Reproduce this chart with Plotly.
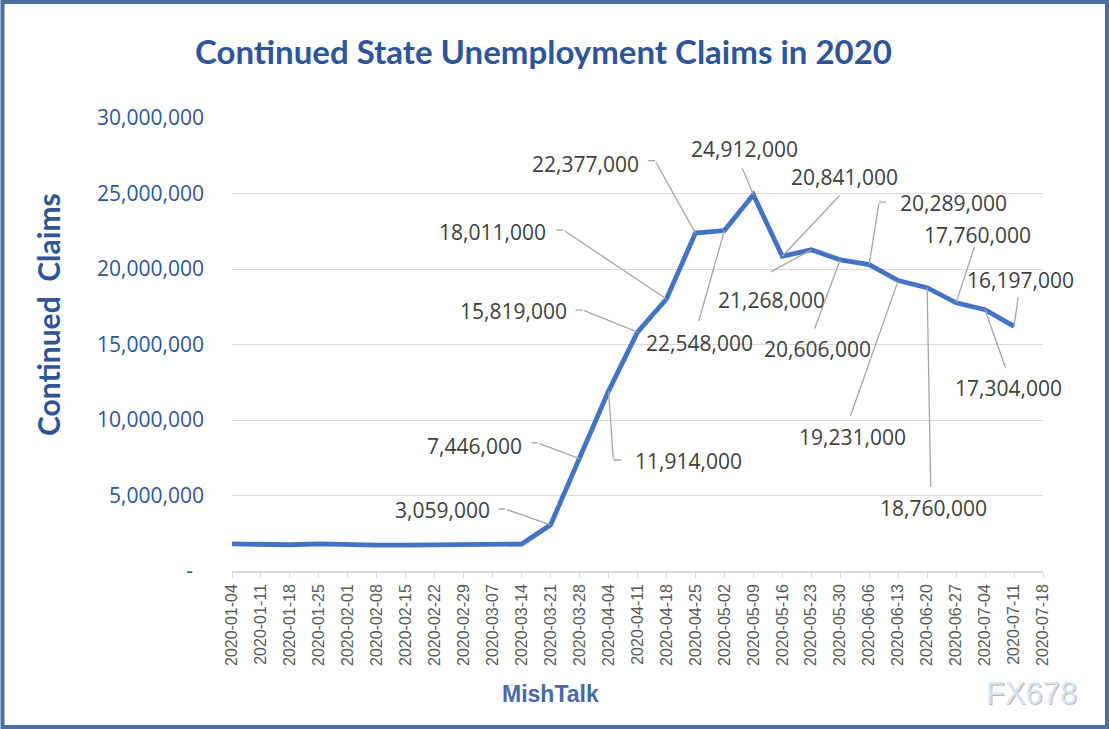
import plotly.graph_objects as go

# ---- data ----
dates = ["2020-01-04", "2020-01-11", "2020-01-18", "2020-01-25", "2020-02-01", "2020-02-08",
         "2020-02-15", "2020-02-22", "2020-02-29", "2020-03-07", "2020-03-14", "2020-03-21",
         "2020-03-28", "2020-04-04", "2020-04-11", "2020-04-18", "2020-04-25", "2020-05-02",
         "2020-05-09", "2020-05-16", "2020-05-23", "2020-05-30", "2020-06-06", "2020-06-13",
         "2020-06-20", "2020-06-27", "2020-07-04", "2020-07-11"]
claims = [1790000, 1730000, 1740000, 1800000, 1730000, 1720000,
          1720000, 1720000, 1720000, 1720000, 1780000, 3059000,
          7446000, 11914000, 15819000, 18011000, 22377000, 22548000,
          24912000, 20841000, 21268000, 20606000, 20289000, 19231000,
          18760000, 17760000, 17304000, 16197000]
tick_dates = dates + ["2020-07-18"]
y_tickvals = [0, 5000000, 10000000, 15000000, 20000000, 25000000, 30000000]
y_ticktext = ["-\u00a0\u00a0", "5,000,000", "10,000,000", "15,000,000", "20,000,000", "25,000,000", "30,000,000"]
labeled_dates = dates[11:]

# ---- label placement (pixel offsets from the data point: text centre, elbow, stub end) ----
label_pos = {
    "2020-03-21": ((-108.6, -14.8), (-45.6, -15.8), (-53.6, -15.8)),
    "2020-03-28": ((-104.6, -12.6), (-41.6, -15.6), (-49.6, -15.6)),
    "2020-04-04": ((79.5, 69.9), (4.8, 68.9), (14.2, 68.9)),
    "2020-04-11": ((-124.5, -21.1), (-54.8, -22.1), (-63.5, -22.1)),
    "2020-04-18": ((-173.5, -67.0), (-103.2, -69.0), (-111.5, -69.0)),
    "2020-04-25": ((-109.9, -69.1), (-40.4, -72.4), (-48.7, -72.4)),
    "2020-05-02": ((-24.4, 112.2), (-26.1, 92.2), None),
    "2020-05-09": ((-8.4, -45.8), (-11.7, -28.1), None),
    "2020-05-16": ((62.2, -79.0), (58.7, -62.3), None),
    "2020-05-23": ((-39.6, 50.1), (-42.0, 22.8), None),
    "2020-05-30": ((-23.2, 89.5), (-26.2, 70.2), None),
    "2020-06-06": ((83.8, -61.3), (9.8, -62.6), (18.5, -62.6)),
    "2020-06-13": ((-45.2, 156.1), (-48.2, 136.7), None),
    "2020-06-20": ((6.2, 220.6), (3.6, 200.6), None),
    "2020-06-27": ((20.9, -67.8), (18.9, -57.8), None),
    "2020-07-04": ((23.7, 78.6), (20.9, 59.3), None),
    "2020-07-11": ((6.8, -46.4), (4.3, -30.4), None),
}

BLUE_TXT = "#2F5597"
LEADER = "#a6a6a6"

fig = go.Figure()
fig.add_trace(go.Scatter(
    x=dates, y=claims, mode="lines",
    line=dict(color="#4472C4", width=4.8),
    hoverinfo="x+y", showlegend=False,
))

annotations = []
for d in labeled_dates:
    v = claims[dates.index(d)]
    (tx, ty), (ex, ey), stub = label_pos[d]
    annotations.append(dict(x=d, y=v, xref="x", yref="y", text="", showarrow=True,
                            arrowhead=0, arrowwidth=1.3, arrowcolor=LEADER, standoff=0,
                            ax=ex, ay=ey))
    if stub is not None:
        sx, sy = stub
        annotations.append(dict(x=d, y=v, xref="x", yref="y", text="", showarrow=True,
                                arrowhead=0, arrowwidth=1.3, arrowcolor=LEADER, standoff=0,
                                xshift=ex, yshift=-ey, ax=sx - ex, ay=sy - ey))
    annotations.append(dict(x=d, y=v, xref="x", yref="y", text=f"{v:,}", showarrow=False,
                            xshift=tx, yshift=-ty, xanchor="center", yanchor="middle",
                            font=dict(family="Open Sans", size=21, color="#404040")))

def paper_x(px):
    return (px - 232) / 811

def paper_y(py):
    return (571 - py) / 453

annotations.append(dict(x=paper_x(543), y=paper_y(51), xref="paper", yref="paper",
                        xanchor="center", yanchor="middle",
                        text="<b>Continued State Unemployment Claims in 2020</b>",
                        showarrow=False, font=dict(family="Lato", size=33, color=BLUE_TXT)))
annotations.append(dict(x=paper_x(48), y=paper_y(315), xref="paper", yref="paper",
                        xanchor="center", yanchor="middle",
                        text="<b>Continued  Claims</b>", textangle=-90,
                        showarrow=False, font=dict(family="Lato", size=30, color=BLUE_TXT)))
annotations.append(dict(x=paper_x(550), y=paper_y(694), xref="paper", yref="paper",
                        xanchor="center", yanchor="middle",
                        text="<b>MishTalk</b>", showarrow=False,
                        font=dict(family="Liberation Sans", size=23, color="#4a69a8")))
annotations.append(dict(x=paper_x(1031), y=paper_y(693), xref="paper", yref="paper",
                        xanchor="center", yanchor="middle",
                        text="FX678", showarrow=False, xshift=1, yshift=-1,
                        font=dict(family="Liberation Sans", size=31, color="#c9b7a3")))
annotations.append(dict(x=paper_x(1031), y=paper_y(693), xref="paper", yref="paper",
                        xanchor="center", yanchor="middle",
                        text="FX678", showarrow=False,
                        font=dict(family="Liberation Sans", size=31, color="#d8e5f4")))

fig.update_layout(
    width=1109, height=729,
    margin=dict(l=232, r=66, t=118, b=158),
    paper_bgcolor="white", plot_bgcolor="white",
    annotations=annotations,
    shapes=[dict(type="rect", xref="paper", yref="paper",
                 x0=paper_x(2.5), x1=paper_x(1107),
                 y0=paper_y(727), y1=paper_y(2),
                 line=dict(color="#4c6ea3", width=4), fillcolor="rgba(0,0,0,0)", layer="below")],
    xaxis=dict(
        type="date", range=["2020-01-04", "2020-07-18"],
        tickmode="array", tickvals=tick_dates, ticktext=tick_dates, tickangle=-90,
        tickfont=dict(family="Liberation Sans", size=16, color="#595959"),
        showgrid=False, showline=True, linecolor="#d9d9d9", linewidth=1.5,
        ticks="outside", ticklen=5, tickcolor="#d9d9d9", tickwidth=1.3,
        ticklabelstandoff=0, zeroline=False,
    ),
    yaxis=dict(
        range=[0, 30000000], tickmode="array", tickvals=y_tickvals, ticktext=y_ticktext,
        tickfont=dict(family="Open Sans", size=21, color=BLUE_TXT),
        showgrid=True, gridcolor="#d9d9d9", gridwidth=1.3,
        zeroline=False, showline=False, ticks="", ticklabelstandoff=27,
    ),
)

fig.write_html("out.html", config={"displayModeBar": False},
               post_script="document.body.style.margin='0';document.body.style.overflow='hidden';")
